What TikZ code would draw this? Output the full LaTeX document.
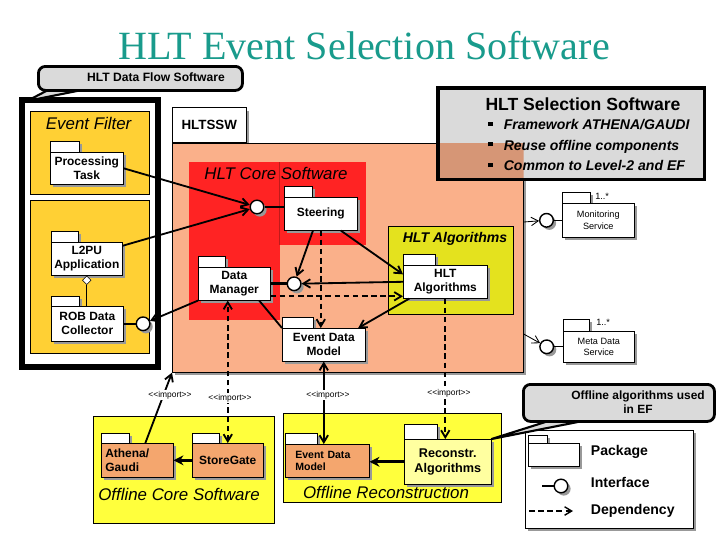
\documentclass[tikz,border=0pt]{standalone}
\usepackage{fontspec}
\setmainfont{Liberation Sans}
\newfontfamily\titlefont{Liberation Serif}
\usepackage{tikz}
\usetikzlibrary{positioning,calc,shapes.geometric,shadows,arrows.meta}
\definecolor{TitleTeal}{RGB}{25,155,140}
\definecolor{EFGold}{RGB}{255,208,52}
\definecolor{SSWSalmon}{RGB}{250,176,138}
\definecolor{CoreRed}{RGB}{255,35,35}
\definecolor{AlgYellow}{RGB}{228,226,30}
\definecolor{OffYellow}{RGB}{255,255,60}
\definecolor{OffOrange}{RGB}{244,166,110}
\definecolor{OffPale}{RGB}{255,255,160}
\definecolor{NoteGray}{RGB}{218,218,218}
\definecolor{NoteSalmon}{RGB}{214,150,118}
\pgfdeclarelayer{areas}
\pgfdeclarelayer{tabs}
\pgfsetlayers{areas,tabs,main}
\newcommand{\fsz}[2]{\fontsize{#1}{#2}\selectfont}
\newcommand{\imptext}{<\kern0pt<import>\kern0pt>}
\newcommand{\selitem}[1]{\makebox[11pt][l]{\rule[0.25em]{0.3em}{0.3em}}#1}
% tab of a package, drawn behind its body
\newcommand{\pkgtab}[3][11]{%
    \begin{pgfonlayer}{tabs}
        \draw[pkgtabbox] (#2.north west) rectangle ++(#3,-#1);
    \end{pgfonlayer}}
\tikzset{
    pshadow/.style={drop shadow={shadow xshift=0.07cm, shadow yshift=-0.07cm, opacity=1, fill=black!40}},
    pkgbody/.style={draw, fill=white, pshadow, anchor=north west, inner sep=1pt, align=center, font=\bfseries\fsz{8.5}{10}},
    pkgtabbox/.style={draw, fill=white, pshadow},
    iface/.style={circle, draw, fill=white, line width=1pt, minimum size=0.34cm, inner sep=0pt, pshadow}
}

\begin{document}
\begin{tikzpicture}[
        x=0.025cm, y=-0.025cm,
        >={Straight Barb[length=5pt, width=6pt]},
        % --- STYLE ---
        conn/.style={line width=1.3pt, ->},
        dep/.style={line width=1.3pt, ->, dash pattern=on 4pt off 2.5pt},
        thinuse/.style={line width=0.6pt, ->},
        fat/.style={line width=2.2pt, -{Stealth[length=7pt, width=7pt]}},
        note/.style={draw, line width=2pt, fill=NoteGray, rounded corners=5pt, anchor=north west, inner sep=0pt},
        area_text/.style={font=\itshape\fsz{12}{14}},
        imp_text/.style={font=\fsz{6}{7}, fill=white, inner sep=0.5pt},
        mult_text/.style={font=\fsz{6.5}{7}, anchor=west, inner sep=0pt},
        legend_text/.style={font=\bfseries\fsz{10}{12}, anchor=west}
    ]

    % --- AREAS ---
    \begin{pgfonlayer}{areas}
        \path[use as bounding box, fill=white] (0,0) rectangle (720,540);
        % Event Filter
        \draw[line width=3.6pt] (22,100) rectangle (158,367);
        \draw[fill=EFGold] (30,111) rectangle (149,194);
        \draw[fill=EFGold] (30,200) rectangle (149,353);
        \node[area_text, anchor=west] (efText) at (41,123) {Event Filter};
        % HLTSSW
        \node[draw, fill=white, pshadow, anchor=south west, minimum width=1.85cm, minimum height=0.875cm,
            font=\bfseries\fsz{9.5}{11}] (sswTab) at (172,143) {HLTSSW};
        \node[draw, fill=SSWSalmon, pshadow, anchor=north west, minimum width=8.775cm, minimum height=5.725cm] (hltssw) at (172,143) {};
        % HLT Core Software
        \fill[CoreRed] (189,162) rectangle (280,320);
        \fill[CoreRed] (278,162) rectangle (366,245);
        \draw[CoreRed!75!black, line width=0.4pt] (279,162) -- (279,245);
        \node[area_text] (coreText) at (276,173) {HLT Core Software};
        % HLT Algorithms
        \draw[fill=AlgYellow] (388,226) rectangle (513,314);
        \node[area_text, font=\bfseries\itshape\fsz{10}{12}] (algText) at (455,239) {HLT Algorithms};
        % Offline
        \draw[fill=OffYellow] (93,416) rectangle (274,523);
        \node[area_text] (offCoreText) at (179,494) {Offline Core Software};
        \draw[fill=OffYellow] (283,413) rectangle (501,502);
        \node[area_text] (offRecText) at (386,492) {Offline Reconstruction};
        % Legend
        \draw[fill=white, pshadow] (525,430) rectangle (693,528);
    \end{pgfonlayer}

    % --- TITLE ---
    \node[font=\titlefont\fsz{28.5}{32}, text=TitleTeal] (title) at (364,46) {HLT Event Selection Software};

    % --- PACKAGES ---
    \node[pkgbody, minimum width=1.825cm, minimum height=0.8cm] (pt) at (50,152) {Processing\\Task};
    \pkgtab{pt}{29}
    \node[pkgbody, minimum width=1.775cm, minimum height=0.825cm] (l2pu) at (51,242) {L2PU\\Application};
    \pkgtab{l2pu}{27}
    \node[pkgbody, minimum width=1.8cm, minimum height=0.875cm] (rob) at (51,306) {ROB Data\\Collector};
    \pkgtab[10]{rob}{28}
    \node[pkgbody, minimum width=1.825cm, minimum height=0.825cm] (st) at (284,197) {Steering};
    \pkgtab{st}{28}
    \node[pkgbody, minimum width=1.8cm, minimum height=0.825cm] (dm) at (198,267) {Data\\Manager};
    \pkgtab{dm}{27}
    \node[pkgbody, minimum width=2.1cm, minimum height=0.825cm] (hltalg) at (403,265) {HLT\\Algorithms};
    \pkgtab{hltalg}{32}
    \node[pkgbody, minimum width=2.075cm, minimum height=0.825cm] (edm) at (282,328) {Event Data\\Model};
    \pkgtab{edm}{31}
    \node[pkgbody, minimum width=1.8cm, minimum height=0.85cm, font=\fsz{6.5}{8}] (mon) at (562,203) {Monitoring\\Service};
    \pkgtab{mon}{28}
    \node[pkgbody, minimum width=1.775cm, minimum height=0.775cm, font=\fsz{6.5}{8}] (meta) at (563,331) {Meta Data\\Service};
    \pkgtab[12]{meta}{26}
    \node[pkgbody, fill=OffOrange, minimum width=1.8cm, minimum height=0.85cm, text width=1.6cm, align=left] (ag) at (101,443) {Athena/\\Gaudi};
    \pkgtab[10]{ag}{28}
    \node[pkgbody, fill=OffOrange, minimum width=1.775cm, minimum height=0.85cm] (sg) at (192,443) {StoreGate};
    \pkgtab[10]{sg}{27}
    \node[pkgbody, fill=OffOrange, minimum width=2.1cm, minimum height=0.825cm, text width=1.6cm, align=left,
        font=\bfseries\fsz{7.5}{9}] (oedm) at (285,444) {Event Data\\Model};
    \pkgtab{oedm}{32}
    \node[pkgbody, fill=OffPale, minimum width=2.175cm, minimum height=1.125cm, font=\bfseries\fsz{9}{11}] (rec) at (404,439) {Reconstr.\\Algorithms};
    \pkgtab[15]{rec}{33}

    \node[diamond, draw, fill=white, inner sep=0pt, minimum size=0.22cm, below=0pt of l2pu] (l2puAgg) {};
    \node[mult_text] (monMult) at (595,196) {1..*};
    \node[mult_text] (metaMult) at (596,322) {1..*};

    % --- INTERFACES ---
    \node[iface] (stIf) at (257,207) {};
    \node[iface, right=0.4cm of dm] (dmIf) {};
    \node[iface, right=0.3cm of rob] (robIf) {};
    \node[iface, left=0.2cm of mon] (monIf) {};
    \node[iface, left=0.22cm of meta] (metaIf) {};

    % --- CONNECTORS ---
    \draw[conn] (pt.east) -- (stIf);
    \draw[conn] (l2pu.20) -- (stIf);
    \draw[line width=1.3pt] (stIf) -- (stIf -| st.west);
    \draw[line width=1pt] (l2puAgg.south) -- (l2puAgg.south |- rob.north);
    \draw[line width=1.3pt] (robIf) -- (rob);
    \draw[conn] (dm.south west) -- (robIf);
    \draw[line width=2.2pt] (dm.east) -- (dmIf);
    \draw[conn] (st.245) -- (dmIf);
    \draw[conn] (hltalg.west) -- (dmIf);
    \draw[dep] (dm.-19) -- (dm.-19 -| hltalg.west);
    \draw[conn] (st.-40) -- (hltalg.170);
    \draw[dep] (st.south) -- (st.south |- edm.north);
    \draw[line width=1.3pt] (dm.-34) -- (edm.north west);
    \draw[conn] (hltalg.205) -- (edm.26);
    % services
    \coordinate (monFrom) at (hltssw.east |- 0,222);
    \coordinate (metaFrom) at (hltssw.east |- 0,334);
    \draw[thinuse] (monFrom) -- (monIf);
    \draw[line width=0.6pt] (monIf) -- (mon);
    \draw[thinuse] (metaFrom) -- (metaIf);
    \draw[line width=0.6pt] (metaIf) -- (meta);
    % imports
    \draw[conn] (ag.65) -- (hltssw.south west);
    \draw[dep, <->] (sg.north) -- (sg.north |- dm.south);
    \draw[conn, <->] (edm.south) -- (edm.south |- oedm.north);
    \draw[dep] (hltalg.south) -- (hltalg.south |- rec.north);
    \node[imp_text] (impAG) at (170,395) {\imptext};
    \node[imp_text] (impSG) at (230,398) {\imptext};
    \node[imp_text] (impEDM) at (328,395) {\imptext};
    \node[imp_text] (impRec) at (449,393) {\imptext};
    % offline
    \draw[fat] (sg.west) -- (ag.east);
    \draw[fat] (rec.west) -- (rec.west -| oedm.east);

    % --- CALLOUTS ---
    \filldraw[fill=NoteGray, line width=1.5pt, line join=round] (27,101) -- (52,88) -- (92,88) -- cycle;
    \node[note, minimum width=5.1cm, minimum height=0.6cm] (dfNote) at (37,65) {};
    \node[font=\bfseries\fsz{8.6}{10}] (dfText) at (156,77) {HLT Data Flow Software};

    \node[fill=NoteGray, anchor=north west, minimum width=6.65cm, minimum height=2.275cm] (selNote) at (438,88) {};
    % salmon seen through the note
    \begin{scope}
        \clip (hltssw.north west) rectangle (hltssw.south east);
        \fill[NoteSalmon] (selNote.north west) rectangle (selNote.south east);
    \end{scope}
    \draw[line width=2.2pt] (selNote.north west) rectangle (selNote.south east);
    \node[font=\bfseries\fsz{12.5}{14}] (selTitle) at (583,104) {HLT Selection Software};
    \node[anchor=north west, align=left, inner sep=0pt, font=\bfseries\itshape\fsz{10}{14.6}] (selList) at (488,119)
        {\selitem{Framework ATHENA/GAUDI}\\ \selitem{Reuse offline components}\\ \selitem{Common to Level-2 and EF}};

    \filldraw[fill=NoteGray, line width=1.5pt, line join=round] (rec.north east) -- (558,418) -- (598,418) -- cycle;
    \node[note, minimum width=4.775cm, minimum height=0.925cm] (offNote) at (522,383) {};
    \node[align=center, font=\bfseries\fsz{8.5}{10}] (offText) at (638,402) {Offline algorithms used\\in EF};

    % --- LEGEND ---
    \node[pkgbody, minimum width=1.275cm, minimum height=0.575cm] (lgPkg) at (528,443) {};
    \pkgtab[8]{lgPkg}{19}
    \node[iface] (lgIf) at (561,486) {};
    \coordinate (lgIfEnd) at (542,486);
    \draw[line width=1.5pt] (lgIfEnd) -- (lgIf);
    \coordinate (lgDepA) at (529,511);
    \coordinate (lgDepB) at (573,511);
    \draw[dep, line width=1pt] (lgDepA) -- (lgDepB);
    \node[legend_text] (lgPkgText) at (586,452) {Package};
    \node[legend_text] (lgIfText) at (586,482) {Interface};
    \node[legend_text] (lgDepText) at (586,511) {Dependency};

\end{tikzpicture}
\end{document}
